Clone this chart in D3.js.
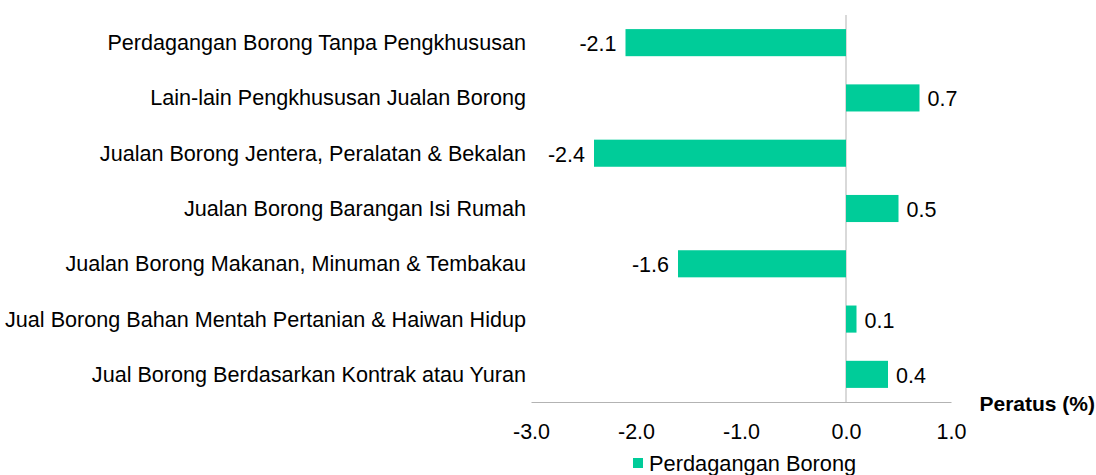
<!DOCTYPE html>
<html>
<head>
<meta charset="utf-8">
<script src="https://cdn.jsdelivr.net/npm/d3@7"></script>
<style>
  body { margin: 0; background: #fff; }
  text { font-family: "Liberation Sans", Arial, sans-serif; fill: #000; }
</style>
</head>
<body>
<svg id="chart" width="1096" height="475"></svg>
<script>
// data
var categories = [
    "Perdagangan Borong Tanpa Pengkhususan",
    "Lain-lain Pengkhususan Jualan Borong",
    "Jualan Borong Jentera, Peralatan & Bekalan",
    "Jualan Borong Barangan Isi Rumah",
    "Jualan Borong Makanan, Minuman & Tembakau",
    "Jual Borong Bahan Mentah Pertanian & Haiwan Hidup",
    "Jual Borong Berdasarkan Kontrak atau Yuran"
];
var values = [-2.1, 0.7, -2.4, 0.5, -1.6, 0.1, 0.4];
var ticks = [-3.0, -2.0, -1.0, 0.0, 1.0];
var seriesName = "Perdagangan Borong";
var axisTitle = "Peratus (%)";

var svg = d3.select("#chart");
var green = "#00cc99";
var fmt = function (d) { return d.toFixed(1); };  // plain hyphen for negatives

var x = d3.scaleLinear().domain([-3, 1]).range([531, 951]);
var y = d3.scaleBand().domain(categories).range([15, 402]).paddingInner(0.51).paddingOuter(0.255);

// zero line
svg.append("line")
    .attr("x1", x(0)).attr("x2", x(0))
    .attr("y1", 15).attr("y2", 402)
    .style("stroke", "#b3b3b3")
    .style("stroke-width", 1);

// bottom axis
var xAxis = svg.append("g")
    .attr("transform", "translate(0,402)")
    .call(d3.axisBottom(x).tickValues(ticks).tickSize(0).tickPadding(22).tickFormat(fmt));
xAxis.select(".domain").style("stroke", "#b3b3b3");
xAxis.selectAll("text")
    .style("font-size", "21.5px")
    .style("font-family", "Liberation Sans, Arial, sans-serif")
    .attr("fill", "#000");

// bars
svg.selectAll(".bar")
    .data(values)
    .enter()
    .append("rect")
    .attr("class", "bar")
    .attr("x", function (d) { return x(Math.min(0, d)); })
    .attr("y", function (d, i) { return y(categories[i]); })
    .attr("width", function (d) { return Math.abs(x(d) - x(0)); })
    .attr("height", y.bandwidth())
    .style("fill", green);

// value labels
svg.selectAll(".val")
    .data(values)
    .enter()
    .append("text")
    .attr("class", "val")
    .attr("x", function (d) { return d < 0 ? x(d) - 9 : x(d) + 8; })
    .attr("y", function (d, i) { return y(categories[i]) + y.bandwidth() / 2 + 1; })
    .attr("dy", "0.35em")
    .attr("text-anchor", function (d) { return d < 0 ? "end" : "start"; })
    .style("font-size", "21.5px")
    .text(fmt);

// category labels
svg.selectAll(".cat")
    .data(categories)
    .enter()
    .append("text")
    .attr("class", "cat")
    .attr("x", 526)
    .attr("y", function (d) { return y(d) + y.bandwidth() / 2; })
    .attr("dy", "0.35em")
    .attr("text-anchor", "end")
    .style("font-size", "21.6px")
    .text(function (d) { return d; });

// axis title
svg.append("text")
    .attr("x", 1095)
    .attr("y", 404)
    .attr("dy", "0.35em")
    .attr("text-anchor", "end")
    .style("font-size", "21px")
    .style("font-weight", "bold")
    .text(axisTitle);

// legend
svg.append("rect")
    .attr("x", 633).attr("y", 458)
    .attr("width", 10).attr("height", 10)
    .style("fill", green);
svg.append("text")
    .attr("x", 649).attr("y", 463)
    .attr("dy", "0.35em")
    .style("font-size", "21.8px")
    .text(seriesName);
</script>
</body>
</html>
